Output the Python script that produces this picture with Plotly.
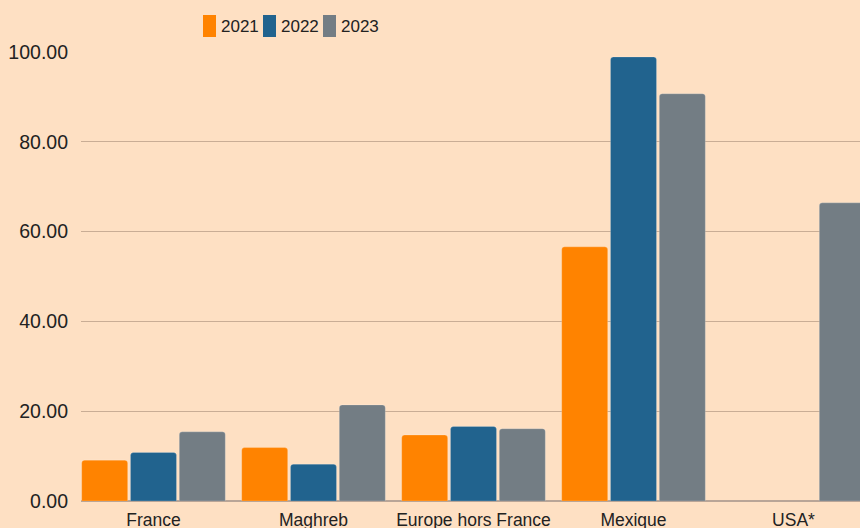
import plotly.graph_objects as go

categories = ["France", "Maghreb", "Europe hors France", "Mexique", "USA*"]
years = ["2021", "2022", "2023"]
values_2021 = [9.1, 11.9, 14.7, 56.6, None]
values_2022 = [10.8, 8.2, 16.6, 98.9, None]
values_2023 = [15.4, 21.4, 16.1, 90.7, 66.4]
y_ticks = [0, 20, 40, 60, 80, 100]
colors = ["#FF8300", "#21638E", "#737D84"]

series = [values_2021, values_2022, values_2023]
BG = "#FEE0C3"
W, H = 860, 528
L, R, T, B = 81, 0, 52, 27

fig = go.Figure()
for name, vals, col in zip(years, series, colors):
    fig.add_trace(go.Bar(
        x=categories, y=vals, name=name,
        marker=dict(color=col, line=dict(width=0.8, color="rgba(255,255,255,0.25)")),
        showlegend=False,
    ))

# custom legend (tall swatches like the reference)
pw, ph = W - L - R, H - T - B
def px(x):
    return (x - L) / pw
def py(y):
    return (H - B - y) / ph

start_x, step = 203, 60
for i, (name, col) in enumerate(zip(years, colors)):
    x0 = start_x + i * step
    fig.add_shape(type="rect", xref="paper", yref="paper",
                  x0=px(x0), x1=px(x0 + 13), y0=py(37), y1=py(15),
                  fillcolor=col, line=dict(width=0))
    fig.add_annotation(xref="paper", yref="paper", x=px(x0 + 16), y=py(26.5),
                       text=name, showarrow=False, xanchor="left", yanchor="middle",
                       font=dict(family="Liberation Sans, Arial, sans-serif",
                                 size=17, color="#222222"))

fig.update_layout(
    width=W, height=H,
    margin=dict(l=L, r=R, t=T, b=B, pad=0, autoexpand=False),
    paper_bgcolor=BG, plot_bgcolor=BG,
    barmode="group", bargap=0.085, bargroupgap=0.057,
    barcornerradius=3,
    font=dict(family="Liberation Sans, Arial, sans-serif", color="#222222"),
)
fig.update_xaxes(
    range=[-0.453, 4.4156], showgrid=False, zeroline=False, showline=False,
    automargin=False,
    tickfont=dict(size=17.5, family="Liberation Sans, Arial, sans-serif", color="#222222"),
    ticklabelstandoff=6,
)
fig.update_yaxes(
    range=[0, 100], tickvals=y_ticks, tickformat=".2f",
    showgrid=True, gridcolor="#C9AD95", gridwidth=1,
    zeroline=True, zerolinecolor="#B9A597", zerolinewidth=1.5,
    showline=False, automargin=False,
    tickfont=dict(size=19.5, family="Liberation Sans, Arial, sans-serif", color="#222222"),
    ticklabelstandoff=12,
)

fig.write_html(
    "out.html",
    config={"displayModeBar": False},
    post_script="document.body.style.margin='0';document.body.style.background='" + BG + "';document.body.style.overflow='hidden';",
)
